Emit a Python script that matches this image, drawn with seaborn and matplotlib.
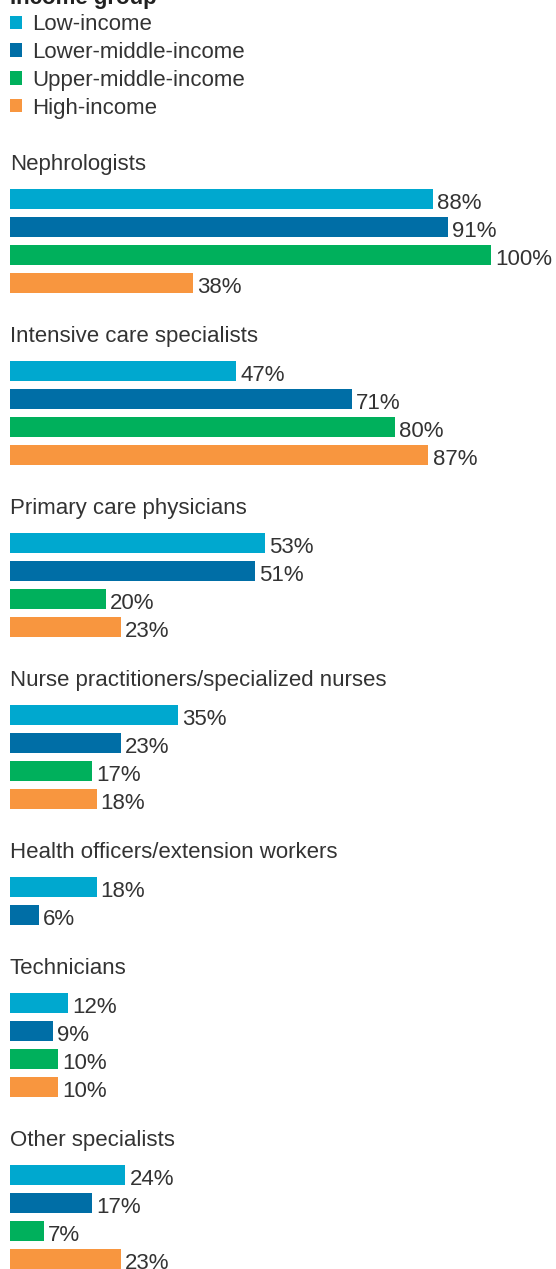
import numpy as np
import pandas as pd
import seaborn as sns
import matplotlib.pyplot as plt
from matplotlib.patches import Patch

groups = ['Low-income', 'Lower-middle-income', 'Upper-middle-income', 'High-income']
colors = ['#00A8CF', '#006EA6', '#00B05C', '#F8963F']
categories = ['Nephrologists', 'Intensive care specialists', 'Primary care physicians',
              'Nurse practitioners/specialized nurses', 'Health officers/extension workers',
              'Technicians', 'Other specialists']
low_income = [88, 47, 53, 35, 18, 12, 24]
lower_middle = [91, 71, 51, 23, 6, 9, 17]
upper_middle = [100, 80, 20, 17, np.nan, 10, 7]
high_income = [38, 87, 23, 18, np.nan, 10, 23]

df = pd.DataFrame({'category': categories,
                   groups[0]: low_income, groups[1]: lower_middle,
                   groups[2]: upper_middle, groups[3]: high_income})
df = df.melt(id_vars='category', var_name='group', value_name='value').dropna()
palette = dict(zip(groups, colors))

sns.set_theme(style='white')
plt.rcParams['font.family'] = ['Liberation Sans', 'DejaVu Sans']
text_color = '#333333'
fs = 16

W, H = 556, 1269
fig = plt.figure(figsize=(W / 100, H / 100), dpi=100)

row = 28          # px per bar
first = 199       # centre of first bar, px from top
x0, x1 = 10, 491  # 0% and 100% in px

for cat in categories:
    sub = df[df['category'] == cat]
    order = [g for g in groups if g in set(sub['group'])]
    n = len(order)
    top = first - row / 2
    ax = fig.add_axes([x0 / W, 1 - (top + n * row) / H, (x1 - x0) / W, n * row / H])
    sns.barplot(data=sub, x='value', y='group', hue='group', order=order,
                hue_order=order, palette=palette, width=20 / 28, legend=False,
                saturation=1, linewidth=0, orient='h', ax=ax)
    ax.set_xlim(0, 100)
    ax.set_ylim(n - 0.5, -0.5)
    ax.axis('off')
    for cont in ax.containers:
        for t in ax.bar_label(cont, fmt='%d%%', padding=3, fontsize=fs, color=text_color):
            t.set_va('baseline')
            t.xyann = (3, -7.2)
    ax.annotate(cat, xy=(0, 1), xycoords='axes fraction', xytext=(0, 15),
                textcoords='offset pixels', va='baseline', ha='left',
                fontsize=fs, color=text_color)
    first += n * row + 60

fig.text(x0 / W, 1 - 4 / H, 'Income group', fontsize=fs, fontweight='bold',
         color='#222222', va='baseline', ha='left')
handles = [Patch(facecolor=c, edgecolor='none') for c in colors]
fig.legend(handles, groups, loc='upper left', bbox_to_anchor=(x0 / W, 1 - 14 / H),
           frameon=False, fontsize=fs, handlelength=0.54, handleheight=0.54,
           handletextpad=0.45, labelspacing=0.31, borderpad=0, borderaxespad=0,
           labelcolor=text_color)

plt.savefig('out.png', dpi=100)
